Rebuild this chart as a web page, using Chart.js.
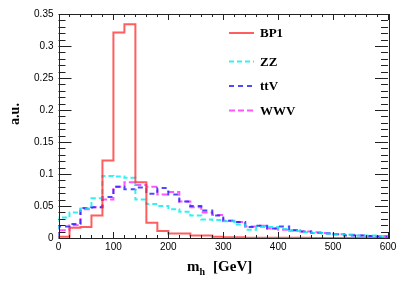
<!DOCTYPE html>
<html>
<head>
<meta charset="utf-8">
<script src="https://cdn.jsdelivr.net/npm/chart.js@4"></script>
<style>
  html, body { margin: 0; padding: 0; background: #fff; }
  #wrap { width: 407px; height: 284px; }
</style>
</head>
<body>
<div id="wrap"><canvas id="mhChart" width="407" height="284"></canvas></div>
<script>
// m_h histogram, 20 GeV bins (low edges)
const binLow = [0, 20, 40, 60, 80, 100, 120, 140, 160, 180, 200, 220, 240, 260, 280,
  300, 320, 340, 360, 380, 400, 420, 440, 460, 480, 500, 520, 540, 560, 580];
const binWidth = 20;

const bp1 = [0.002, 0.016, 0.017, 0.035, 0.121, 0.321, 0.334, 0.087, 0.024, 0.011,
  0.007, 0.007, 0.004, 0.004, 0.002, 0.001, 0.001, 0.0005, 0.0005, 0.0003,
  0.0003, 0.0002, 0.0002, 0.0001, 0.0001, 0.0001, 0, 0, 0, 0];
const zz = [0.032, 0.040, 0.046, 0.062, 0.097, 0.096, 0.094, 0.060, 0.053, 0.050,
  0.045, 0.041, 0.035, 0.029, 0.028, 0.026, 0.021, 0.013, 0.017, 0.017,
  0.014, 0.011, 0.009, 0.008, 0.007, 0.006, 0.005, 0.004, 0.004, 0.003];
const ttv = [0.018, 0.022, 0.047, 0.048, 0.064, 0.080, 0.076, 0.079, 0.069, 0.078,
  0.068, 0.057, 0.050, 0.043, 0.035, 0.027, 0.025, 0.017, 0.019, 0.015,
  0.018, 0.012, 0.010, 0.008, 0.007, 0.006, 0.004, 0.004, 0.003, 0.002];
const wwv = [0.012, 0.020, 0.045, 0.048, 0.060, 0.080, 0.087, 0.083, 0.080, 0.068,
  0.072, 0.057, 0.048, 0.040, 0.036, 0.027, 0.025, 0.018, 0.019, 0.015,
  0.013, 0.012, 0.010, 0.009, 0.008, 0.006, 0.005, 0.004, 0.003, 0.003];

const xTicks = [0, 100, 200, 300, 400, 500, 600];
const yTicks = [0, 0.05, 0.1, 0.15, 0.2, 0.25, 0.3, 0.35];

// turn bin contents into an outline (ROOT "hist" style)
function histPoints(values) {
  const end = binLow[binLow.length - 1] + binWidth;
  const pts = [{ x: binLow[0], y: 0 }];
  values.forEach((v, i) => pts.push({ x: binLow[i], y: v }));
  pts.push({ x: end, y: values[values.length - 1] });
  pts.push({ x: end, y: 0 });
  return pts;
}

const series = [
  { label: "BP1", data: bp1, color: "rgba(255,40,40,0.75)", dash: [] },
  { label: "ZZ", data: zz, color: "rgba(0,238,238,0.8)", dash: [5, 3] },
  { label: "ttV", data: ttv, color: "rgba(30,30,255,0.8)", dash: [5, 4] },
  { label: "WWV", data: wwv, color: "rgba(255,30,255,0.75)", dash: [6, 3] },
];

// frame, inward ticks, titles and legend
const decorPlugin = {
  id: "decor",
  afterDraw(chart) {
    const { ctx, chartArea: a, scales } = chart;
    const xs = scales.x, ys = scales.y;
    ctx.save();
    ctx.strokeStyle = "#222";
    ctx.lineWidth = 1;
    ctx.setLineDash([]);
    ctx.strokeRect(Math.round(a.left) + 0.5, Math.round(a.top) + 0.5,
      Math.round(a.right - a.left), Math.round(a.bottom - a.top));

    ctx.beginPath();
    for (let v = 0; v <= 600; v += 20) {
      const px = Math.round(xs.getPixelForValue(v)) + 0.5;
      const len = v % 100 === 0 ? 6 : 3;
      ctx.moveTo(px, a.bottom); ctx.lineTo(px, a.bottom - len);
      ctx.moveTo(px, a.top); ctx.lineTo(px, a.top + len);
    }
    for (let i = 0; i <= 35; i++) {
      const py = Math.round(ys.getPixelForValue(i / 100)) + 0.5;
      const len = i % 5 === 0 ? 13 : 7;
      ctx.moveTo(a.left, py); ctx.lineTo(a.left + len, py);
      ctx.moveTo(a.right, py); ctx.lineTo(a.right - len, py);
    }
    ctx.stroke();

    // axis titles
    ctx.fillStyle = "#000";
    ctx.font = "bold 15px 'Liberation Serif'";
    ctx.textBaseline = "alphabetic";
    ctx.textAlign = "left";
    let x = 187;
    const base = 271;
    ctx.fillText("m", x, base);
    x += ctx.measureText("m").width;
    ctx.font = "bold 10px 'Liberation Serif'";
    ctx.fillText("h", x, base + 4);
    x += ctx.measureText("h").width + 8;
    ctx.font = "bold 15px 'Liberation Serif'";
    ctx.fillText("[GeV]", x, base);

    ctx.save();
    ctx.translate(19, 114);
    ctx.rotate(-Math.PI / 2);
    ctx.textAlign = "center";
    ctx.font = "bold 14px 'Liberation Serif'";
    ctx.fillText("a.u.", 0, 0);
    ctx.restore();

    // legend
    const rows = [33, 61.5, 86, 110.5];
    chart.data.datasets.forEach((ds, i) => {
      const y = rows[i];
      ctx.strokeStyle = ds.borderColor;
      ctx.lineWidth = 2;
      ctx.setLineDash(ds.borderDash || []);
      ctx.beginPath();
      ctx.moveTo(229, y); ctx.lineTo(254, y);
      ctx.stroke();
      ctx.setLineDash([]);
      ctx.fillStyle = "#000";
      ctx.font = "bold 13px 'Liberation Serif'";
      ctx.textBaseline = "middle";
      ctx.fillText(ds.label, 260, y + 1);
    });
    ctx.restore();
  },
};

new Chart(document.getElementById("mhChart"), {
  type: "line",
  data: {
    datasets: series.map((s) => ({
      label: s.label,
      data: histPoints(s.data),
      borderColor: s.color,
      borderDash: s.dash,
      borderWidth: 2,
      stepped: "before",
      pointRadius: 0,
      fill: false,
    })),
  },
  options: {
    responsive: false,
    animation: false,
    devicePixelRatio: 1,
    layout: { padding: { top: 14, right: 19, left: 0, bottom: 0 } },
    plugins: { legend: { display: false }, tooltip: { enabled: false } },
    scales: {
      x: {
        type: "linear",
        min: 0,
        max: 600,
        afterBuildTicks: (scale) => { scale.ticks = xTicks.map((v) => ({ value: v })); },
        afterFit: (scale) => { scale.height = 46; },
        grid: { display: false, drawTicks: false },
        border: { display: false },
        ticks: {
          color: "#000",
          padding: 3,
          maxRotation: 0,
          autoSkip: false,
          font: { family: "'Liberation Sans'", size: 10 },
        },
      },
      y: {
        min: 0,
        max: 0.35,
        afterBuildTicks: (scale) => { scale.ticks = yTicks.map((v) => ({ value: v })); },
        afterFit: (scale) => { scale.width = 58.5; },
        grid: { display: false, drawTicks: false },
        border: { display: false },
        ticks: {
          color: "#000",
          padding: 5,
          autoSkip: false,
          font: { family: "'Liberation Sans'", size: 10 },
          callback: (v) => String(v),
        },
      },
    },
  },
  plugins: [decorPlugin],
});
</script>
</body>
</html>
